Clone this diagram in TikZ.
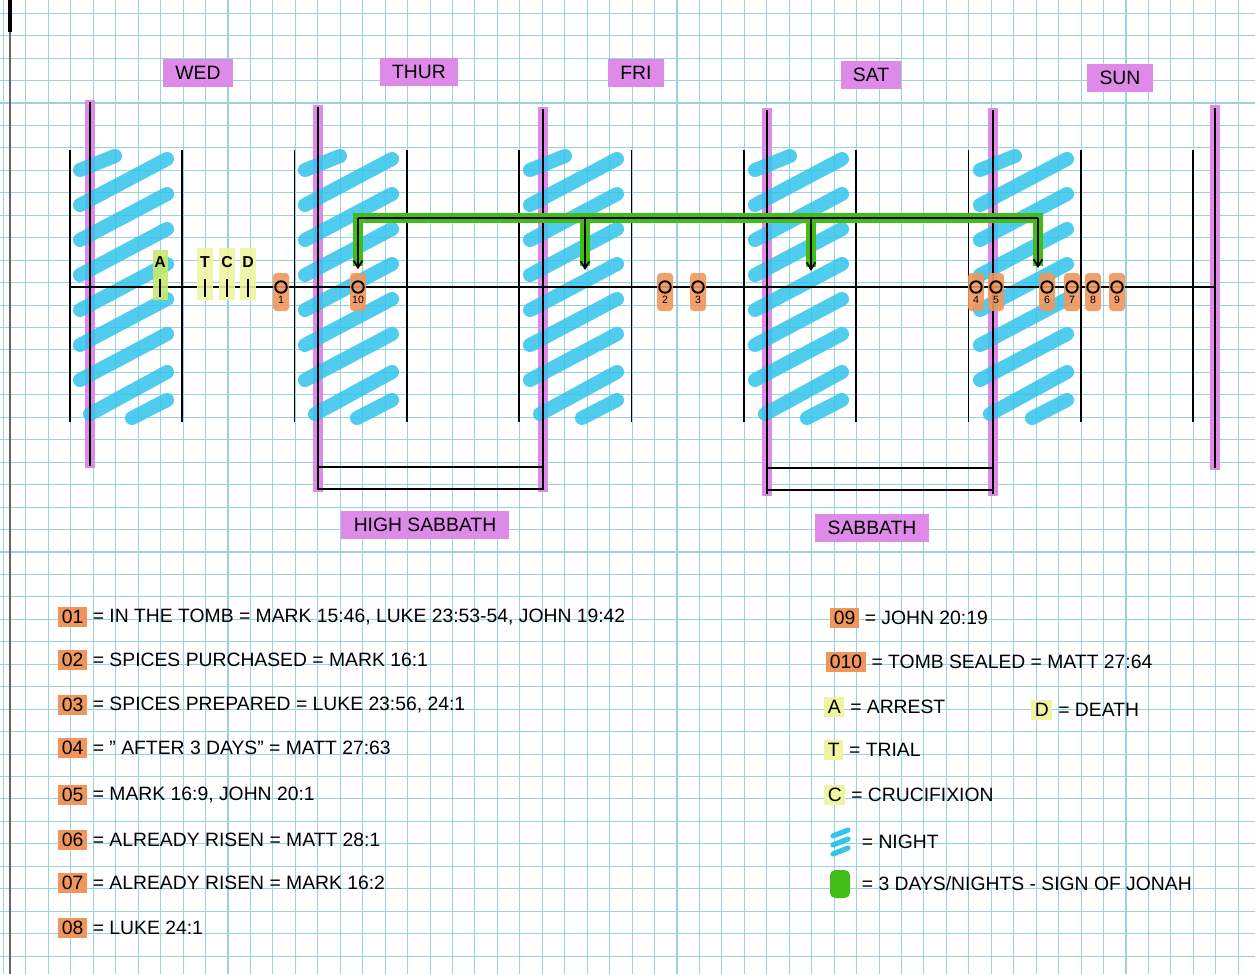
\documentclass[tikz,border=0pt]{standalone}
\usepackage{fontspec}
\setmainfont{Liberation Sans}
\usepackage{xcolor}
\usepackage{tikz}
\usetikzlibrary{arrows.meta, positioning, calc}

\definecolor{gridcol}{RGB}{155,210,225}
\definecolor{pinkhl}{RGB}{222,138,232}
\definecolor{nightcol}{RGB}{50,196,236}
\definecolor{orangehl}{RGB}{240,150,92}
\definecolor{yellowhl}{RGB}{238,244,160}
\definecolor{limehl}{RGB}{200,232,110}
\definecolor{greenhl}{RGB}{66,188,22}

\begin{document}
\begin{tikzpicture}[x=0.02cm, y=-0.02cm, >={Straight Barb[length=4pt, width=5pt]},
    pen/.style={line width=1pt, black},
    daylbl/.style={fill=pinkhl, inner xsep=7pt, inner ysep=4pt, font=\fontsize{11}{13}\selectfont},
    evt/.style={circle, draw, line width=1.1pt, minimum size=0.23cm, inner sep=0pt},
    evtnum/.style={font=\fontsize{6}{7}\selectfont, inner sep=1pt},
    keyhl/.style={fill=#1, inner sep=2pt, anchor=west, font=\fontsize{11}{13}\selectfont},
    legtxt/.style={inner sep=2pt, font=\fontsize{11}{13}\selectfont},
    nightstroke/.style={nightcol, line width=8pt, line cap=round, opacity=0.85},
    jonah/.style={greenhl, line width=6pt}
]

    % Papel cuadriculado
    \fill[white] (0,0) rectangle (1255,974);
    \useasboundingbox (0,0) rectangle (1255,974);
    \foreach \gx in {3.5,25.95,...,1255} \draw[gridcol, line width=0.6pt] (\gx,0) -- (\gx,974);
    \foreach \gy in {13.2,35.65,...,974} \draw[gridcol, line width=0.6pt] (0,\gy) -- (1255,\gy);
    \draw[black!60, line width=1pt] (10,0) -- (10,974);
    \draw[black, line width=2.5pt] (10,0) -- (10,32);

    % --- DAYS ---
    \node[daylbl] (wed) at (198,73) {WED};
    \node[daylbl] (thur) at (419,72) {THUR};
    \node[daylbl] (fri) at (636,73) {FRI};
    \node[daylbl] (sat) at (871,75) {SAT};
    \node[daylbl] (sun) at (1120,78) {SUN};

    % pink day boundaries
    \foreach \px/\ptop/\pbot in {90/100/468, 318/105/492, 543/107/492, 767/108/496, 993/108/496, 1215/105/470}
        \draw[pinkhl, line width=6pt] (\px,\ptop) -- (\px,\pbot);

    % night hatching
    \foreach \nx in {70,295,520,745,970} {
        \draw[nightstroke] (\nx+10,170) -- (\nx+45,156);
        \foreach \ny in {205,240,...,380}
            \draw[nightstroke] (\nx+10,\ny) -- (\nx+97,\ny-46);
        \draw[nightstroke] (\nx+20,414) -- (\nx+97,372);
        \draw[nightstroke] (\nx+62,418) -- (\nx+97,400);
    }

    % day / night divisions
    \foreach \bx in {70,182.3,...,1194} \draw[pen] (\bx,150) -- (\bx,422);
    \foreach \px/\ptop/\pbot in {90/102/466, 318/107/490, 543/109/490, 767/110/494, 993/110/494, 1215/108/468}
        \draw[pen] (\px,\ptop) -- (\px,\pbot);

    % sabbath brackets
    \draw[pen] (318,467) -- (543,467) (318,489) -- (543,489);
    \draw[pen] (767,468) -- (993,468) (767,490) -- (993,490);
    \node[daylbl] (hisab) at (425,525) {HIGH SABBATH};
    \node[daylbl] (sab) at (872,528) {SABBATH};

    % --- TIMELINE ---
    \draw[pen] (70,287) -- (1215,287);

    % A, T, C, D
    \fill[limehl, opacity=0.9] (153,250) rectangle (168,300);
    \foreach \mx in {205,227,248} \fill[yellowhl, opacity=0.9] (\mx-8,248) rectangle (\mx+8,300);
    \foreach \mx/\ml in {160/A, 205/T, 227/C, 248/D} {
        \node[font=\fontsize{9}{10}\selectfont\bfseries, inner sep=1pt] (m\ml) at (\mx,262) {\ml};
        \draw[line width=1.2pt] (\mx,279) -- (\mx,297);
    }

    % events
    \foreach \ex in {281,358,665,698,976,996,1047,1072,1093,1117}
        \fill[orangehl, opacity=0.9, rounded corners=2pt] (\ex-8,273) rectangle (\ex+8,311);
    \foreach \ex/\en in {281/1, 358/10, 665/2, 698/3, 976/4, 996/5, 1047/6, 1072/7, 1093/8, 1117/9}
        \node[evt, label={[evtnum]below:\en}] (e\en) at (\ex,287) {};

    % --- SIGN OF JONAH ---
    \coordinate (jl) at (358,218);
    \coordinate (jr) at (1038,218);
    \coordinate (jfri) at (585,218);
    \coordinate (jsat) at (811,218);
    \coordinate (tfri) at (585,270);
    \coordinate (tsat) at (811,271);
    \coordinate (tsun) at (1038,268);
    \draw[jonah] (358,266) -- (jl) -- (jr) -- (1038,266);
    \draw[jonah] (jfri) -- (585,266);
    \draw[jonah] (jsat) -- (811,267);
    \draw[pen] (jl) -- (jr);
    \draw[pen, ->] (jl) -- ([yshift=0.22cm]e10.north);
    \draw[pen, ->] (jfri) -- (tfri);
    \draw[pen, ->] (jsat) -- (tsat);
    \draw[pen, ->] (jr) -- (tsun);

    % --- LEGEND ---
    \foreach \k/\ky/\kt in {01/617/{= IN THE TOMB = MARK 15:46, LUKE 23:53-54, JOHN 19:42},
                            02/660/{= SPICES PURCHASED = MARK 16:1},
                            03/705/{= SPICES PREPARED = LUKE 23:56, 24:1},
                            04/748/{= \char"0022\ AFTER 3 DAYS\char"0022\ = MATT 27:63},
                            05/795/{= MARK 16:9, JOHN 20:1},
                            06/840/{= ALREADY RISEN = MATT 28:1},
                            07/883/{= ALREADY RISEN = MARK 16:2},
                            08/928/{= LUKE 24:1}} {
        \node[keyhl=orangehl] (k\k) at (58,\ky) {\k};
        \node[legtxt, right=1pt of k\k] {\kt};
    }
    \node[keyhl=orangehl] (k09) at (830,618) {09};
    \node[legtxt, right=1pt of k09] {= JOHN 20:19};
    \node[keyhl=orangehl] (k010) at (826,662) {010};
    \node[legtxt, right=1pt of k010] {= TOMB SEALED = MATT 27:64};
    \node[keyhl=yellowhl] (kA) at (824,707) {A};
    \node[legtxt, right=1pt of kA] {= ARREST};
    \node[keyhl=yellowhl] (kD) at (1031,710) {D};
    \node[legtxt, right=1pt of kD] {= DEATH};
    \node[keyhl=yellowhl] (kT) at (824,750) {T};
    \node[legtxt, right=1pt of kT] {= TRIAL};
    \node[keyhl=yellowhl] (kC) at (824,795) {C};
    \node[legtxt, right=1pt of kC] {= CRUCIFIXION};

    % swatches
    \foreach \sy in {833,842,851} \draw[nightcol, line width=3pt, line cap=round] (833,\sy+3) -- (848,\sy-3);
    \node[legtxt, anchor=west] (night) at (858,842) {= NIGHT};
    \fill[greenhl, rounded corners=3pt] (830,870) rectangle (850,898);
    \node[legtxt, anchor=west] (sign) at (858,884) {= 3 DAYS/NIGHTS - SIGN OF JONAH};

\end{tikzpicture}
\end{document}
